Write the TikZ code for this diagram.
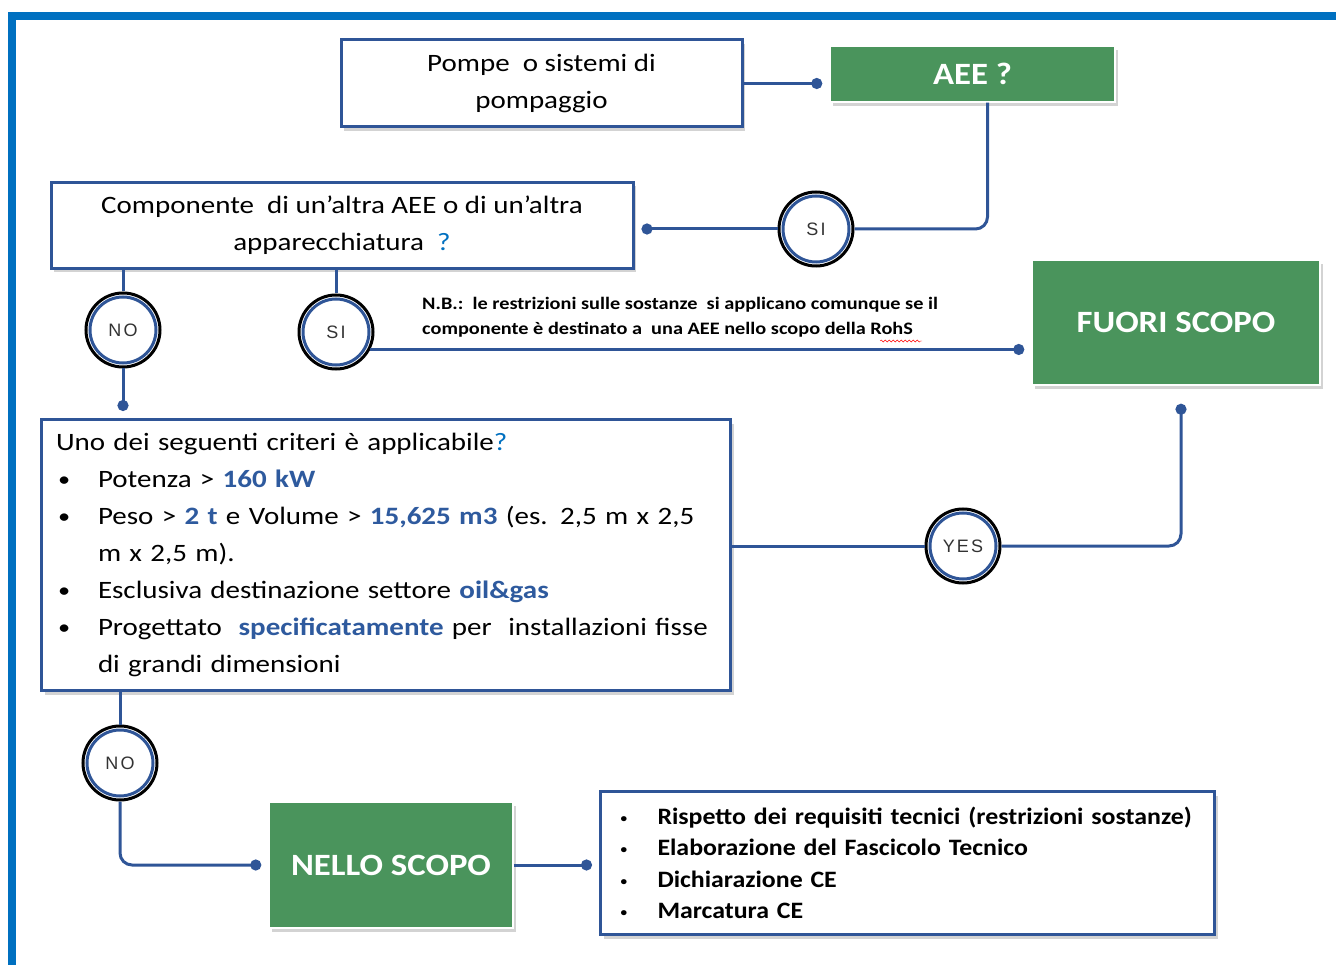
\documentclass[tikz,border=0pt]{standalone}
\usepackage{fontspec}
\setmainfont{Carlito}[FakeStretch=1.16]
\newfontfamily\reqfont{Carlito}[FakeStretch=1.1]
\newfontfamily\greenfont{Carlito}[FakeStretch=1.12]
\newfontfamily\circfont{Liberation Sans}[LetterSpace=12]
\usetikzlibrary{shapes,arrows.meta,positioning,shadows,decorations.pathmorphing}

\definecolor{framecol}{RGB}{0,112,192}
\definecolor{linecol}{RGB}{47,85,151}
\definecolor{boxgreen}{RGB}{74,148,92}
\definecolor{qblue}{RGB}{0,112,192}
\definecolor{kwblue}{RGB}{46,90,158}

\tikzset{
  qbox/.style={draw=linecol, line width=3pt, fill=white, align=center,
    drop shadow={shadow xshift=3pt, shadow yshift=-4pt, opacity=0.35, fill=gray}},
  greenbox/.style={draw=white, line width=1.5pt, fill=boxgreen, text=white,
    font=\greenfont\fontsize{31}{36}\selectfont\bfseries,
    drop shadow={shadow xshift=3pt, shadow yshift=-4pt, opacity=0.35, fill=gray}},
  answer/.style={circle, draw=black, line width=3pt, fill=white, minimum size=74pt,
    inner sep=0pt, text=black!80, font=\circfont\fontsize{18}{18}\selectfont,
    path picture={\draw[linecol, line width=3pt]
      (path picture bounding box.center) circle (33pt);}},
  conn/.style={draw=linecol, line width=3pt},
  dot/.style={conn, -{Circle[length=11pt]}, shorten >=7pt}
}
\newcommand{\kwd}[1]{\textcolor{kwblue}{\bfseries #1}}
\newcommand{\itm}{\makebox[42pt][l]{\hspace{2pt}\fontsize{21}{21}\selectfont\raisebox{1pt}{\textbullet}}}
\newcommand{\rtm}{\makebox[37pt][l]{\fontsize{12}{12}\selectfont\raisebox{2pt}{\textbullet}}}

\begin{document}
\begin{tikzpicture}[x=1pt,y=-1pt]
    \useasboundingbox (0,0) rectangle (1336,965);

    % Frame
    \fill[framecol] (8,12) rectangle (1336,20);
    \fill[framecol] (8,12) rectangle (16,965);

    % Question boxes
    \node[qbox, minimum width=401pt, minimum height=87pt,
      font=\fontsize{25}{37}\selectfont] (pompe) at (541.5,83.5)
      {Pompe\ \ o sistemi di\\pompaggio};
    \node[greenbox, minimum width=285pt, minimum height=56pt] (aee) at (972.5,74) {AEE ?};

    \node[qbox, minimum width=582pt, minimum height=86pt,
      font=\fontsize{25}{37}\selectfont] (comp) at (342,225.5)
      {Componente\ \ di un'altra AEE o di un'altra\\apparecchiatura\ \ \textcolor{qblue}{?}};

    % Answers
    \node[answer] (si1) at (816,229) {SI};
    \node[answer] (no1) at (123,330) {NO};
    \node[answer] (si2) at (336,332) {SI};
    \node[answer] (yes) at (963,546) {YES};
    \node[answer] (no2) at (120,763) {NO};

    % Note
    \node[anchor=north west, align=left, inner sep=0pt,
      font=\fontsize{17.5}{25}\selectfont\bfseries] (nota) at (422,297)
      {N.B.:\ \ le restrizioni sulle sostanze\ \ si applicano comunque se il\\
       componente è destinato a\ \ una AEE nello scopo della RohS};
    \draw[red, decorate, decoration={snake, amplitude=1pt, segment length=4pt}]
      (880,341) -- (922,341);

    \node[greenbox, minimum width=288pt, minimum height=125pt] (fuori) at (1176,322.5) {FUORI SCOPO};

    % Criteria
    \node[qbox, anchor=north west, minimum width=689pt, minimum height=271pt,
      text width=660pt, align=left, inner xsep=14pt,
      font=\fontsize{25}{37}\selectfont] (crit) at (40,418)
      {\rule{0pt}{8pt}Uno\ dei seguenti\ criteri\ è applicabile\textcolor{qblue}{?}\\
       \itm Potenza > \kwd{160 kW}\\
       \itm Peso > \kwd{2 t} e Volume > \kwd{15,625\ m3} (es. 2,5 m x 2,5\\
       \hspace*{42pt}m x 2,5 m).\\
       \itm Esclusiva destinazione\ settore\ \kwd{oil\&gas}\\
       \itm Progettato\ \ \kwd{specificatamente} per\ \ installazioni fisse\\
       \hspace*{42pt}di grandi\ dimensioni};

    \node[greenbox, minimum width=244pt, minimum height=126pt] (nello) at (391,865) {NELLO SCOPO};

    \node[qbox, anchor=north west, minimum width=614pt, minimum height=143pt,
      text width=574pt, align=left, inner xsep=20pt,
      font=\reqfont\fontsize{23.5}{31.5}\selectfont\bfseries] (req) at (599,790)
      {\rtm Rispetto dei requisiti tecnici (restrizioni\ sostanze)\\
       \rtm Elaborazione del Fascicolo Tecnico\\
       \rtm Dichiarazione CE\\
       \rtm Marcatura CE};

    % Connectors
    \draw[dot] (pompe.east) -- (pompe.east -| aee.west);
    \draw[conn, rounded corners=12pt] ([xshift=15pt]aee.south) |- (si1.east);
    \draw[dot] (si1.west) -- (si1.west -| comp.east);
    \draw[conn] (no1.north |- comp.south) -- (no1.north);
    \draw[dot] (no1.south) -- (no1.south |- crit.north);
    \draw[conn] (si2.north |- comp.south) -- (si2.north);
    \draw[dot] (si2.-27) -- (si2.-27 -| fuori.west);
    \draw[conn, {Circle[length=11pt]}-, shorten <=18pt, rounded corners=12pt]
      ([xshift=5pt]fuori.south) |- (yes.east);
    \draw[conn] (yes.west) -- (yes.west -| crit.east);
    \draw[conn] (no2.north |- crit.south) -- (no2.north);
    \draw[dot, rounded corners=12pt] (no2.south) |- (nello.west);
    \draw[dot] (nello.east) -- (nello.east -| req.west);
\end{tikzpicture}
\end{document}
